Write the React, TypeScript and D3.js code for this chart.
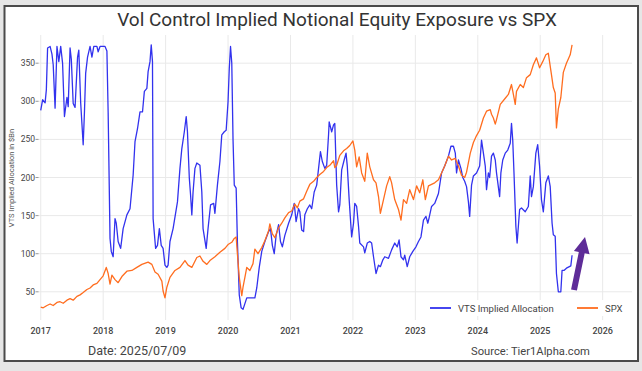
import React, { useEffect, useRef } from 'react';
import * as d3 from 'd3';

// values, decimal year -> $Bn (SPX shown rescaled on the same axis)
const yearTicks = [2017, 2018, 2019, 2020, 2021, 2022, 2023, 2024, 2025, 2026];
const valueTicks = [50, 100, 150, 200, 250, 300, 350];

const vtsSeries: [number, number][] = [
  [2017.0, 288], [2017.03, 302], [2017.07, 298], [2017.09, 315], [2017.11, 370], [2017.15, 372], [2017.18, 362],
  [2017.2, 348], [2017.23, 291], [2017.26, 372], [2017.29, 352], [2017.32, 372], [2017.35, 350], [2017.38, 280],
  [2017.42, 305], [2017.44, 293], [2017.47, 370], [2017.49, 355], [2017.52, 297], [2017.55, 292], [2017.59, 358],
  [2017.61, 367], [2017.64, 298], [2017.68, 243], [2017.7, 285], [2017.72, 337], [2017.75, 358], [2017.79, 372],
  [2017.82, 358], [2017.85, 372], [2017.9, 372], [2017.92, 365], [2017.95, 372], [2018.03, 372], [2018.06, 366],
  [2018.08, 285], [2018.11, 120], [2018.13, 103], [2018.16, 96], [2018.19, 146], [2018.21, 140], [2018.24, 116],
  [2018.28, 107], [2018.32, 133], [2018.38, 151], [2018.43, 159], [2018.48, 203], [2018.51, 247], [2018.55, 264],
  [2018.59, 286], [2018.63, 286], [2018.66, 313], [2018.7, 317], [2018.72, 339], [2018.75, 352], [2018.77, 374],
  [2018.79, 352], [2018.8, 146], [2018.84, 107], [2018.87, 111], [2018.9, 133], [2018.93, 111], [2018.96, 107],
  [2018.99, 85], [2019.02, 82], [2019.04, 85], [2019.07, 116], [2019.12, 133], [2019.19, 168], [2019.23, 212],
  [2019.26, 238], [2019.3, 260], [2019.33, 280], [2019.35, 260], [2019.38, 199], [2019.4, 177], [2019.42, 151],
  [2019.44, 181], [2019.47, 212], [2019.5, 219], [2019.55, 216], [2019.58, 181], [2019.6, 133], [2019.65, 107],
  [2019.68, 133], [2019.72, 164], [2019.77, 166], [2019.79, 153], [2019.83, 190], [2019.87, 221], [2019.9, 256],
  [2019.94, 260], [2019.97, 262], [2020.0, 299], [2020.02, 343], [2020.04, 372], [2020.06, 350], [2020.08, 250],
  [2020.1, 190], [2020.13, 186], [2020.15, 116], [2020.18, 46], [2020.21, 29], [2020.24, 27], [2020.3, 42],
  [2020.38, 42], [2020.43, 42], [2020.46, 55], [2020.5, 82], [2020.54, 103], [2020.59, 116], [2020.65, 129],
  [2020.68, 133], [2020.71, 111], [2020.74, 100], [2020.77, 124], [2020.81, 138], [2020.84, 116], [2020.87, 109],
  [2020.91, 124], [2020.97, 140], [2021.02, 151], [2021.06, 166], [2021.09, 142], [2021.13, 159], [2021.15, 155],
  [2021.18, 131], [2021.21, 129], [2021.23, 151], [2021.27, 159], [2021.31, 164], [2021.34, 159], [2021.38, 181],
  [2021.42, 190], [2021.45, 212], [2021.48, 234], [2021.51, 221], [2021.55, 212], [2021.58, 216], [2021.61, 256],
  [2021.62, 273], [2021.66, 260], [2021.69, 269], [2021.71, 271], [2021.74, 190], [2021.77, 155], [2021.79, 164],
  [2021.82, 210], [2021.86, 223], [2021.89, 232], [2021.91, 215], [2021.94, 171], [2021.98, 122], [2022.01, 140],
  [2022.03, 166], [2022.06, 162], [2022.09, 136], [2022.11, 114], [2022.17, 109], [2022.19, 101], [2022.23, 114],
  [2022.27, 116], [2022.3, 114], [2022.33, 96], [2022.37, 74], [2022.41, 85], [2022.44, 83], [2022.48, 92],
  [2022.51, 96], [2022.57, 94], [2022.62, 105], [2022.67, 114], [2022.71, 109], [2022.74, 118], [2022.77, 96],
  [2022.81, 92], [2022.83, 98], [2022.87, 83], [2022.91, 96], [2022.96, 103], [2023.01, 109], [2023.05, 116],
  [2023.09, 122], [2023.13, 144], [2023.17, 149], [2023.2, 140], [2023.22, 147], [2023.26, 162], [2023.31, 166],
  [2023.37, 179], [2023.42, 206], [2023.47, 215], [2023.53, 228], [2023.57, 241], [2023.61, 241], [2023.64, 232],
  [2023.66, 206], [2023.69, 223], [2023.73, 212], [2023.76, 200], [2023.79, 195], [2023.82, 188], [2023.85, 168],
  [2023.87, 149], [2023.9, 190], [2023.93, 202], [2023.98, 206], [2024.03, 215], [2024.06, 249], [2024.09, 232],
  [2024.12, 215], [2024.14, 184], [2024.17, 206], [2024.19, 200], [2024.22, 228], [2024.25, 232], [2024.28, 223],
  [2024.3, 206], [2024.35, 175], [2024.37, 206], [2024.4, 223], [2024.44, 232], [2024.48, 236], [2024.52, 245],
  [2024.54, 271], [2024.56, 249], [2024.58, 206], [2024.61, 136], [2024.63, 114], [2024.67, 158], [2024.7, 160],
  [2024.76, 155], [2024.81, 162], [2024.84, 202], [2024.86, 175], [2024.89, 188], [2024.93, 232], [2024.96, 243],
  [2024.99, 215], [2025.02, 171], [2025.05, 155], [2025.09, 193], [2025.13, 202], [2025.16, 188], [2025.19, 140],
  [2025.21, 125], [2025.24, 123], [2025.26, 74], [2025.29, 50], [2025.33, 50], [2025.35, 78], [2025.38, 78],
  [2025.42, 81], [2025.49, 84], [2025.51, 98],
];

const spxSeries: [number, number][] = [
  [2017.0, 30], [2017.04, 29], [2017.1, 32], [2017.15, 34], [2017.2, 32], [2017.26, 36], [2017.31, 37],
  [2017.36, 35], [2017.42, 39], [2017.47, 41], [2017.52, 39], [2017.58, 44], [2017.63, 46], [2017.68, 49],
  [2017.74, 53], [2017.79, 55], [2017.84, 59], [2017.9, 61], [2017.95, 66], [2018.0, 71], [2018.05, 82],
  [2018.08, 74], [2018.11, 60], [2018.14, 72], [2018.19, 66], [2018.24, 62], [2018.3, 70], [2018.38, 77],
  [2018.46, 78], [2018.54, 82], [2018.62, 86], [2018.72, 89], [2018.78, 86], [2018.83, 76], [2018.88, 73],
  [2018.94, 64], [2018.96, 51], [2018.99, 42], [2019.02, 56], [2019.07, 69], [2019.15, 78], [2019.23, 82],
  [2019.31, 91], [2019.36, 85], [2019.42, 82], [2019.5, 95], [2019.55, 97], [2019.6, 90], [2019.66, 86],
  [2019.71, 91], [2019.79, 96], [2019.87, 102], [2019.95, 107], [2020.0, 112], [2020.06, 115], [2020.1, 120],
  [2020.13, 122], [2020.15, 100], [2020.18, 69], [2020.22, 45], [2020.24, 56], [2020.27, 69], [2020.3, 82],
  [2020.35, 78], [2020.4, 87], [2020.43, 106], [2020.48, 100], [2020.54, 108], [2020.59, 117], [2020.65, 130],
  [2020.67, 139], [2020.71, 126], [2020.75, 121], [2020.81, 134], [2020.86, 140], [2020.91, 147], [2020.97, 154],
  [2021.02, 156], [2021.07, 165], [2021.11, 160], [2021.15, 169], [2021.21, 172], [2021.26, 182], [2021.31, 191],
  [2021.37, 195], [2021.42, 200], [2021.47, 204], [2021.53, 208], [2021.58, 213], [2021.63, 216], [2021.69, 222],
  [2021.71, 213], [2021.74, 216], [2021.79, 229], [2021.85, 235], [2021.9, 238], [2021.95, 242], [2022.0, 248],
  [2022.03, 236], [2022.06, 214], [2022.1, 227], [2022.14, 206], [2022.19, 195], [2022.23, 232], [2022.27, 214],
  [2022.33, 197], [2022.37, 193], [2022.41, 175], [2022.44, 153], [2022.49, 171], [2022.54, 189], [2022.59, 201],
  [2022.62, 193], [2022.67, 171], [2022.73, 158], [2022.77, 144], [2022.81, 171], [2022.86, 166], [2022.91, 184],
  [2022.97, 171], [2023.02, 189], [2023.07, 180], [2023.12, 197], [2023.16, 171], [2023.21, 189], [2023.26, 191],
  [2023.31, 193], [2023.37, 197], [2023.42, 206], [2023.47, 215], [2023.53, 228], [2023.58, 223], [2023.64, 225],
  [2023.69, 215], [2023.74, 203], [2023.79, 200], [2023.82, 207], [2023.88, 232], [2023.93, 246], [2023.98, 255],
  [2024.03, 262], [2024.09, 278], [2024.14, 287], [2024.2, 289], [2024.22, 283], [2024.25, 278], [2024.28, 270],
  [2024.3, 276], [2024.36, 296], [2024.44, 304], [2024.49, 309], [2024.54, 322], [2024.57, 309], [2024.6, 296],
  [2024.62, 313], [2024.68, 322], [2024.73, 318], [2024.78, 331], [2024.84, 335], [2024.89, 348], [2024.94, 357],
  [2024.99, 344], [2025.04, 352], [2025.09, 361], [2025.13, 363], [2025.18, 335], [2025.21, 318], [2025.24, 311],
  [2025.26, 265], [2025.29, 290], [2025.33, 305], [2025.37, 338], [2025.42, 350], [2025.48, 361], [2025.51, 374],
];

const seriesNames = ['VTS Implied Allocation', 'SPX'];
const seriesColors = ['#3232ee', '#ff6d1f'];

const FONT = 'Roboto, "DejaVu Sans", sans-serif';

const App = () => {
  const chartRef = useRef<SVGSVGElement>(null);

  useEffect(() => {
    const width = 642;
    const height = 371;
    const svg = d3.select(chartRef.current);
    svg.selectAll('*').remove();

    // screenshot background + framed slide
    svg.append('rect').attr('width', width).attr('height', height).attr('fill', '#e6e6e6');
    svg.append('rect')
      .attr('x', 4.5).attr('y', 6).attr('width', 633.5).attr('height', 355)
      .attr('fill', '#fff').attr('stroke', '#4b4b4b').attr('stroke-width', 2);

    const x = d3.scaleLinear().domain([2016.95, 2026.47]).range([37.6, 632]);
    const y = d3.scaleLinear().domain([13, 387]).range([320, 35]);

    // grid
    const grid = svg.append('g').attr('stroke', '#e9e9e9').attr('stroke-width', 1);
    grid.selectAll('.gx').data(yearTicks).enter().append('line')
      .attr('x1', d => x(d)).attr('x2', d => x(d)).attr('y1', y.range()[1]).attr('y2', y.range()[0]);
    grid.selectAll('.gy').data(valueTicks).enter().append('line')
      .attr('x1', x.range()[0]).attr('x2', x.range()[1]).attr('y1', d => y(d)).attr('y2', d => y(d));

    // y ticks
    const yAxis = svg.append('g').attr('font-family', FONT).attr('font-size', 8.5).attr('fill', '#444');
    yAxis.selectAll('text').data(valueTicks).enter().append('text')
      .attr('x', 35).attr('y', d => y(d) + 3).attr('text-anchor', 'end').text(d => d);
    yAxis.selectAll('line').data(valueTicks).enter().append('line')
      .attr('x1', 35.5).attr('x2', 38.5).attr('y1', d => y(d)).attr('y2', d => y(d)).attr('stroke', '#999');

    // x ticks
    svg.append('g').attr('font-family', FONT).attr('font-size', 9).attr('fill', '#444').attr('font-weight', 500)
      .selectAll('text').data(yearTicks).enter().append('text')
      .attr('x', d => x(d)).attr('y', 334).attr('text-anchor', 'middle').text(d => d);

    svg.append('text')
      .attr('transform', 'translate(14,178) rotate(-90)')
      .attr('text-anchor', 'middle').attr('font-family', FONT).attr('font-size', 7.5).attr('fill', '#555')
      .text('VTS Implied Allocation in $Bn');

    // lines
    const line = d3.line<[number, number]>().x(d => x(d[0])).y(d => y(d[1]));
    [vtsSeries, spxSeries].forEach((s, i) => {
      svg.append('path').datum(s).attr('d', line).attr('fill', 'none')
        .attr('stroke', seriesColors[i]).attr('stroke-width', 1.3).attr('stroke-linejoin', 'round');
    });

    // legend
    svg.append('rect').attr('x', 425).attr('y', 300).attr('width', 206).attr('height', 16).attr('fill', '#fff');
    const legendX = [430, 577];
    seriesNames.forEach((name, i) => {
      svg.append('line').attr('x1', legendX[i]).attr('x2', legendX[i] + 21).attr('y1', 308).attr('y2', 308)
        .attr('stroke', seriesColors[i]).attr('stroke-width', 1.8);
      svg.append('text').attr('x', legendX[i] + 28).attr('y', 311.5)
        .attr('font-family', FONT).attr('font-size', 9.5).attr('fill', '#444').text(name);
    });

    // annotation arrow
    const tail = [574, 290];
    const tip = [585, 237];
    const len = Math.hypot(tip[0] - tail[0], tip[1] - tail[1]);
    const dx = (tip[0] - tail[0]) / len;
    const dy = (tip[1] - tail[1]) / len;
    const nx = -dy, ny = dx;
    const bx = tip[0] - dx * 16, by = tip[1] - dy * 16;
    const pts = [
      [tail[0] - nx * 3, tail[1] - ny * 3], [bx - nx * 3, by - ny * 3], [bx - nx * 8, by - ny * 8], tip,
      [bx + nx * 8, by + ny * 8], [bx + nx * 3, by + ny * 3], [tail[0] + nx * 3, tail[1] + ny * 3],
    ];
    svg.append('polygon').attr('points', pts.map(p => p.join(',')).join(' ')).attr('fill', '#5e2c98');

    // title + footer
    svg.append('text').attr('x', 337).attr('y', 26).attr('text-anchor', 'middle')
      .attr('font-family', FONT).attr('font-size', 19).attr('fill', '#333')
      .text('Vol Control Implied Notional Equity Exposure vs SPX');
    svg.append('text').attr('x', 88).attr('y', 355)
      .attr('font-family', FONT).attr('font-size', 12.5).attr('fill', '#444').text('Date: 2025/07/09');
    svg.append('text').attr('x', 471).attr('y', 355)
      .attr('font-family', FONT).attr('font-size', 11.2).attr('fill', '#444').text('Source: Tier1Alpha.com');
  }, []);

  return (
    <div style={{ position: 'fixed', left: 0, top: 0 }}>
      <svg ref={chartRef} width={642} height={371} style={{ display: 'block' }} />
    </div>
  );
};

export default App;
